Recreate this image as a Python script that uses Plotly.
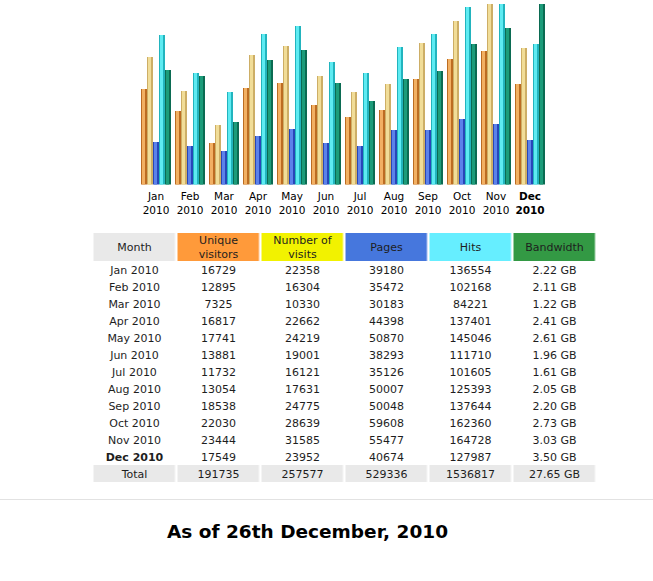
import plotly.graph_objects as go

months = ["Jan", "Feb", "Mar", "Apr", "May", "Jun", "Jul", "Aug", "Sep", "Oct", "Nov", "Dec"]
year = "2010"
unique_visitors = [16729, 12895, 7325, 16817, 17741, 13881, 11732, 13054, 18538, 22030, 23444, 17549]
visits = [22358, 16304, 10330, 22662, 24219, 19001, 16121, 17631, 24775, 28639, 31585, 23952]
pages = [39180, 35472, 30183, 44398, 50870, 38293, 35126, 50007, 50048, 59608, 55477, 40674]
hits = [136554, 102168, 84221, 137401, 145046, 111710, 101605, 125393, 137644, 162360, 164728, 127987]
bandwidth_gb = [2.22, 2.11, 1.22, 2.41, 2.61, 1.96, 1.61, 2.05, 2.20, 2.73, 3.03, 3.50]
totals = ["191735", "257577", "529336", "1536817", "27.65 GB"]
header_labels = ["Month", "Unique<br>visitors", "Number of<br>visits", "Pages", "Hits", "Bandwidth"]
current_month = "Dec"
footer_text = "As of 26th December, 2010"

W, H = 653, 581
FONT = "DejaVu Sans"

def py(px):
    return 1 - px / H

fig = go.Figure()

# ---------------- bar chart ----------------
dark_colors = ["#BC6C22", "#CDAE66", "#2846B8", "#22B4BE", "#0B6B52"]
light_colors = ["#F2B063", "#F1DD98", "#5C82EA", "#5EEBF2", "#1C9C7A"]
series = [
    (unique_visitors, "y", "Unique visitors"),
    (visits, "y", "Number of visits"),
    (pages, "y2", "Pages"),
    (hits, "y2", "Hits"),
    (bandwidth_gb, "y3", "Bandwidth"),
]
group_px = 34.0
slot = 6 / group_px
for k, (vals, ax, name) in enumerate(series):
    left = -15 / group_px + k * slot
    fig.add_trace(go.Bar(
        x=months, y=vals, yaxis=ax, xaxis="x", name=name,
        width=slot, offset=left,
        marker=dict(color=dark_colors[k], line=dict(width=0)),
        showlegend=False, hoverinfo="skip",
    ))
    fig.add_trace(go.Bar(
        x=months, y=vals, yaxis=ax, xaxis="x", name=name,
        width=3.8 / group_px, offset=left + 0.6 / group_px,
        marker=dict(color=light_colors[k], line=dict(width=0)),
        showlegend=False, hoverinfo="skip",
    ))

ticktext = []
for m in months:
    if m == current_month:
        ticktext.append(f"<b>{m}<br>{year}</b>")
    else:
        ticktext.append(f"{m}<br>{year}")

ydom = [py(184.5), py(4)]

# ---------------- table (as heatmap grid) ----------------
row_labels = [f"{m} {year}" for m in months]
row_labels = [f"<b>{r}</b>" if r.startswith(current_month) else r for r in row_labels] + ["Total"]
col_unique = [str(v) for v in unique_visitors] + [totals[0]]
col_visits = [str(v) for v in visits] + [totals[1]]
col_pages = [str(v) for v in pages] + [totals[2]]
col_hits = [str(v) for v in hits] + [totals[3]]
col_bw = [f"{v:.2f} GB" for v in bandwidth_gb] + [totals[4]]
columns = [row_labels, col_unique, col_visits, col_pages, col_hits, col_bw]

n_body = len(row_labels)
text_grid = [header_labels] + [[col[i] for col in columns] for i in range(n_body)]

# colour codes: 0 white, 1 grey, 2 orange, 3 yellow, 4 blue, 5 cyan, 6 green
palette = ["#FFFFFF", "#E9E9E9", "#FF9A3A", "#F2F200", "#4677DD", "#66EEFF", "#339944"]
header_codes = [1, 2, 3, 4, 5, 6]
z_grid = [header_codes] + [[0] * 6 for _ in range(n_body - 1)] + [[1] * 6]
ncol = len(palette)
colorscale = []
for i, c in enumerate(palette):
    colorscale.append([i / ncol, c])
    colorscale.append([(i + 1) / ncol, c])

header_h, row_h = 28, 17
heights = [header_h] + [row_h] * n_body
edges = [0]
for hgt in heights:
    edges.append(edges[-1] + hgt)

fig.add_trace(go.Heatmap(
    z=z_grid, x=list(range(6)), y=edges, xaxis="x2", yaxis="y4",
    colorscale=colorscale, zmin=-0.5, zmax=ncol - 0.5, showscale=False,
    xgap=2.5, ygap=0, text=text_grid, texttemplate="%{text}",
    textfont=dict(family=FONT, size=11, color="#1E1E1E"), hoverinfo="skip",
))

fig.update_layout(
    width=W, height=H,
    margin=dict(l=0, r=0, t=0, b=0),
    paper_bgcolor="white", plot_bgcolor="white",
    barmode="overlay", bargap=0,
    xaxis=dict(domain=[139 / W, 547 / W], type="category", categoryorder="array",
               categoryarray=months, tickmode="array", tickvals=months, ticktext=ticktext,
               showgrid=False, zeroline=False, showline=False, ticks="", ticklabelstandoff=4,
               tickfont=dict(family=FONT, size=10.5, color="black"), range=[-0.5, 11.5],
               anchor="y"),
    yaxis=dict(domain=ydom, range=[0, max(visits)], visible=False, showgrid=False, zeroline=False),
    yaxis2=dict(domain=ydom, range=[0, max(hits)], overlaying="y", visible=False, showgrid=False, zeroline=False),
    yaxis3=dict(domain=ydom, range=[0, max(bandwidth_gb)], overlaying="y", visible=False, showgrid=False, zeroline=False),
    xaxis2=dict(domain=[92.5 / W, 596 / W], range=[-0.5, 5.5], visible=False, anchor="y4",
                showgrid=False, zeroline=False),
    yaxis4=dict(domain=[py(233 + edges[-1]), py(233)], range=[edges[-1], 0], visible=False,
                anchor="x2", showgrid=False, zeroline=False),
)

fig.add_shape(type="line", xref="paper", yref="paper", x0=0, x1=1,
              y0=py(499.5), y1=py(499.5), line=dict(color="#E2E2E2", width=1))

fig.add_annotation(text=f"<b>{footer_text}</b>", xref="paper", yref="paper",
                   x=307 / W, y=py(531), showarrow=False, xanchor="center", yanchor="middle",
                   font=dict(family=FONT, size=18.5, color="black"))

fig.write_html("out.html", config={"displayModeBar": False},
               post_script="document.body.style.margin='0';document.documentElement.style.overflow='hidden';document.body.style.overflow='hidden';")
